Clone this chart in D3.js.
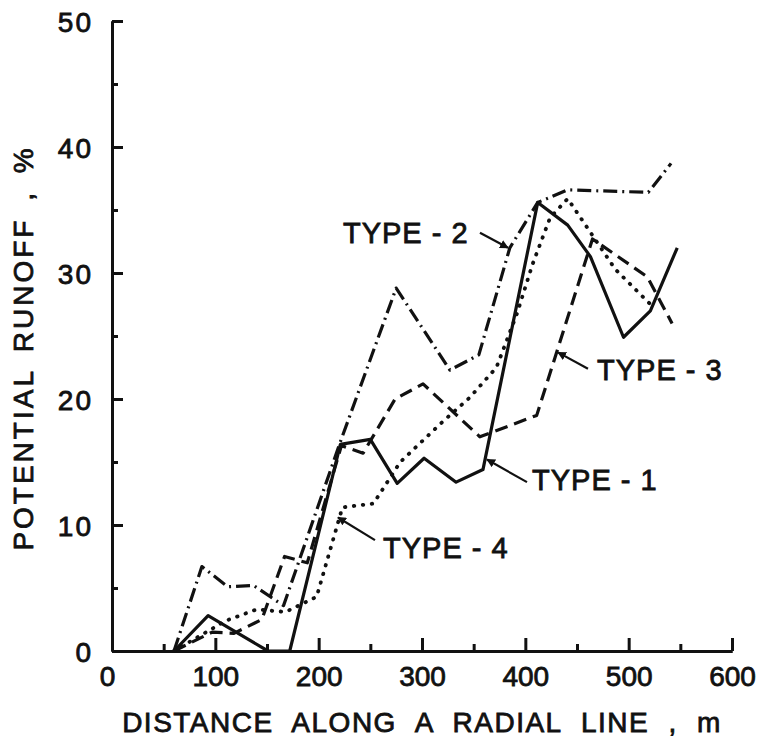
<!DOCTYPE html>
<html>
<head>
<meta charset="utf-8">
<script src="https://d3js.org/d3.v7.min.js"></script>
<style>
  body { margin: 0; background: #fff; }
  svg { display: block; }
  text { font-family: "Liberation Sans", Arial, sans-serif; fill: #111; stroke: #111; stroke-width: 0.8px; }
</style>
</head>
<body>
<div class="chart"></div>
<script>
// distance along the radial line (m) and potential runoff (%) for each soil type
var type1X = [60, 93, 151, 172, 221, 250, 276, 302, 333, 359, 412, 441, 463, 495, 521, 547];
var type1Y = [0, 2.8, 0, 0, 16.4, 16.8, 13.3, 15.3, 13.4, 14.4, 35.6, 33.8, 31.3, 24.9, 27.0, 32.0];

var type2X = [60, 87, 112, 137, 166, 221, 275, 327, 355, 385, 412, 441, 519, 541];
var type2Y = [0, 6.7, 5.1, 5.2, 3.6, 16.6, 28.8, 22.3, 23.5, 32.0, 35.6, 36.6, 36.4, 38.7];

var type3X = [60, 97, 118, 145, 167, 189, 222, 243, 274, 301, 356, 411, 465, 518, 542];
var type3Y = [0, 1.5, 1.4, 2.5, 7.5, 7.0, 16.3, 15.7, 20.0, 21.2, 17.0, 18.7, 32.7, 29.7, 26.0];

var type4X = [60, 110, 140, 168, 198, 223, 253, 279, 320, 346, 372, 392, 407, 424, 441, 487, 520];
var type4Y = [0, 2.4, 3.3, 3.1, 4.3, 11.4, 11.7, 15.0, 18.2, 20.1, 22.5, 26.8, 30.7, 34.4, 35.9, 30.3, 27.6];

var xTicks = [0, 100, 200, 300, 400, 500, 600];
var yTicks = [0, 10, 20, 30, 40, 50];

// curve labels: text anchor and leader line, in data units
var labelNames = ["TYPE - 1", "TYPE - 2", "TYPE - 3", "TYPE - 4"];
var labelX = [406.5, 223.5, 469.4, 262.3];
var labelY = [12.8, 32.4, 21.5, 7.4];
var leaderFrom = [[401.6, 13.4], [356.1, 33.2], [460.6, 22.4], [254.5, 8.8]];
var leaderTo = [[362.9, 15.2], [383.2, 32.0], [431.6, 23.7], [218.7, 10.6]];

var w = 770;
var h = 740;

var x = d3.scaleLinear().domain([0, 600]).range([112, 732]);
var y = d3.scaleLinear().domain([0, 50]).range([651, 21]);

var svg = d3.select(".chart")
  .append("svg")
  .attr("width", w)
  .attr("height", h);

svg.append("rect").attr("width", w).attr("height", h).attr("fill", "#fff");

drawAxes();
drawCurves();
drawLabels();

function drawAxes(){
  // minor ticks every 50 m / 5 %
  svg.append("g")
    .attr("transform", "translate(0," + y(0) + ")")
    .call(d3.axisBottom(x).tickValues(d3.range(50, 600, 100)).tickSize(-7).tickSizeOuter(0).tickFormat(""))
    .call(styleAxis);
  svg.append("g")
    .attr("transform", "translate(" + x(0) + ",0)")
    .call(d3.axisLeft(y).tickValues(d3.range(5, 50, 10)).tickSize(-6).tickSizeOuter(0).tickFormat(""))
    .call(styleAxis);

  // major ticks with labels
  var gx = svg.append("g")
    .attr("transform", "translate(0," + y(0) + ")")
    .call(d3.axisBottom(x).tickValues(xTicks).tickSize(-13).tickSizeOuter(0))
    .call(styleAxis);
  gx.selectAll(".tick text")
    .attr("y", 35)
    .attr("dy", 0)
    .attr("dx", function(d){ return d == 0 ? -5 : 0; })
    .style("font-size", "28px");

  var gy = svg.append("g")
    .attr("transform", "translate(" + x(0) + ",0)")
    .call(d3.axisLeft(y).tickValues(yTicks).tickSize(-11).tickSizeOuter(0))
    .call(styleAxis);
  gy.selectAll(".tick text")
    .attr("x", -19)
    .attr("dy", "0.36em")
    .style("font-size", "28px")
    .style("letter-spacing", "2px");

  // axis titles
  svg.append("text")
    .attr("x", 422)
    .attr("y", 732)
    .attr("text-anchor", "middle")
    .style("font-size", "28px")
    .style("letter-spacing", "1.5px")
    .style("word-spacing", "10px")
    .text("DISTANCE ALONG A RADIAL LINE , m");

  svg.append("text")
    .attr("transform", "translate(33,348) rotate(-90)")
    .attr("text-anchor", "middle")
    .style("font-size", "28px")
    .style("letter-spacing", "3px")
    .style("word-spacing", "6px")
    .text("POTENTIAL RUNOFF , %");
}

function styleAxis(g){
  g.select(".domain").attr("stroke", "#111").attr("stroke-width", 3);
  g.selectAll(".tick line").attr("stroke", "#111").attr("stroke-width", 3);
  g.selectAll(".tick text").attr("fill", "#111");
}

function drawCurves(){
  var line = d3.line()
    .x(function(d){ return x(d[0]); })
    .y(function(d){ return y(d[1]); });

  var series = [
    { xs: type1X, ys: type1Y, dash: null, width: 3.2, cap: "butt" },
    { xs: type2X, ys: type2Y, dash: "14 5 2 5", width: 3.2, cap: "butt" },
    { xs: type3X, ys: type3Y, dash: "13 7", width: 3.2, cap: "butt" },
    { xs: type4X, ys: type4Y, dash: "0.5 8.5", width: 3.8, cap: "round" }
  ];

  svg.selectAll("path.curve")
    .data(series)
    .enter()
    .append("path")
    .attr("class", "curve")
    .attr("d", function(s){ return line(d3.zip(s.xs, s.ys)); })
    .attr("fill", "none")
    .attr("stroke", "#111")
    .attr("stroke-width", function(s){ return s.width; })
    .attr("stroke-linecap", function(s){ return s.cap; })
    .attr("stroke-linejoin", "round")
    .attr("stroke-dasharray", function(s){ return s.dash; });
}

function drawLabels(){
  svg.append("defs").append("marker")
    .attr("id", "tip")
    .attr("viewBox", "0 0 10 10")
    .attr("refX", 9)
    .attr("refY", 5)
    .attr("markerWidth", 4)
    .attr("markerHeight", 4)
    .attr("orient", "auto")
    .append("path")
    .attr("d", "M0,0 L10,5 L0,10 z")
    .attr("fill", "#111");

  svg.selectAll("line.leader")
    .data(labelNames)
    .enter()
    .append("line")
    .attr("class", "leader")
    .attr("x1", function(d, i){ return x(leaderFrom[i][0]); })
    .attr("y1", function(d, i){ return y(leaderFrom[i][1]); })
    .attr("x2", function(d, i){ return x(leaderTo[i][0]); })
    .attr("y2", function(d, i){ return y(leaderTo[i][1]); })
    .attr("stroke", "#111")
    .attr("stroke-width", 2.2)
    .attr("marker-end", "url(#tip)");

  svg.selectAll("text.type")
    .data(labelNames)
    .enter()
    .append("text")
    .attr("class", "type")
    .attr("x", function(d, i){ return x(labelX[i]); })
    .attr("y", function(d, i){ return y(labelY[i]); })
    .style("font-size", "29px")
    .style("letter-spacing", "1px")
    .text(function(d){ return d; });
}
</script>
</body>
</html>
